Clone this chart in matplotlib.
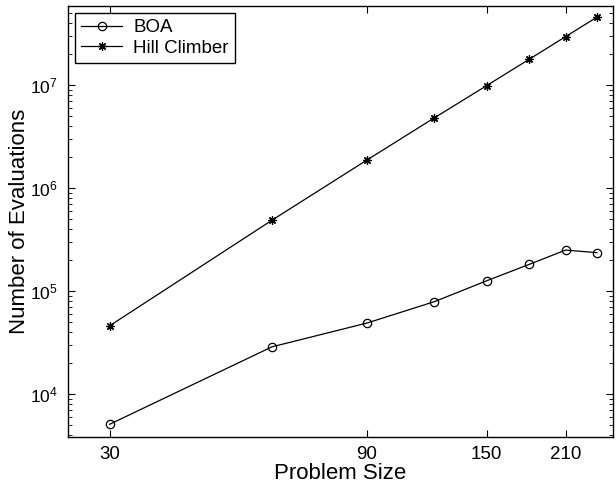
import matplotlib
matplotlib.use("Agg")
import matplotlib.pyplot as plt
from matplotlib.ticker import FixedLocator, FixedFormatter, NullLocator, LogLocator

plt.rcParams['font.family'] = ['Liberation Sans', 'DejaVu Sans']
plt.rcParams['mathtext.default'] = 'regular'

# --- data ---
problem_size = [30, 60, 90, 120, 150, 180, 210, 240]
boa_evals = [5.1e3, 2.88e4, 4.9e4, 7.9e4, 1.26e5, 1.82e5, 2.5e5, 2.36e5]
hill_evals = [4.6e4, 4.87e5, 1.87e6, 4.8e6, 9.85e6, 1.78e7, 2.94e7, 4.54e7]
xtick_vals = [30, 90, 150, 210]

fig = plt.figure(figsize=(6.16, 4.86), dpi=100)
ax = fig.add_axes([0.110, 0.101, 0.885, 0.887])

ax.plot(problem_size, boa_evals, color='black', lw=0.9, marker='o',
        markersize=6, markerfacecolor='none', markeredgewidth=0.9, label='BOA')
ax.plot(problem_size, hill_evals, color='black', lw=0.9, marker=(8, 2, 0),
        markersize=6, markeredgewidth=0.9, label='Hill Climber')

ax.set_xscale('log')
ax.set_yscale('log')
ax.set_xlim(25.1, 257)
ax.set_ylim(3.85e3, 5.85e7)

ax.xaxis.set_major_locator(FixedLocator(xtick_vals))
ax.xaxis.set_major_formatter(FixedFormatter([str(v) for v in xtick_vals]))
ax.xaxis.set_minor_locator(NullLocator())
ax.yaxis.set_major_locator(LogLocator(base=10, numticks=10))
ax.yaxis.set_minor_locator(LogLocator(base=10, subs=range(2, 10), numticks=20))

ax.tick_params(which='both', direction='in', top=True, right=True)
ax.tick_params(axis='x', labelsize=13.5, pad=6.5)
ax.tick_params(axis='y', labelsize=12.5, pad=7)
ax.tick_params(which='major', length=5, width=0.8)
ax.tick_params(which='minor', length=3, width=0.6)
for s in ax.spines.values():
    s.set_linewidth(1.0)

ax.set_xlabel('Problem Size', fontsize=16)
ax.set_ylabel('Number of Evaluations', fontsize=16)
ax.xaxis.set_label_coords(0.5, -0.061)
ax.yaxis.set_label_coords(-0.069, 0.5)

leg = ax.legend(loc='upper left', fontsize=13.5, fancybox=False, framealpha=1,
                edgecolor='black', borderaxespad=0.4, handlelength=2.2,
                borderpad=0.3, labelspacing=0.2, handletextpad=0.6)
leg.get_frame().set_linewidth(1.0)

fig.savefig('out.png', dpi=100)
